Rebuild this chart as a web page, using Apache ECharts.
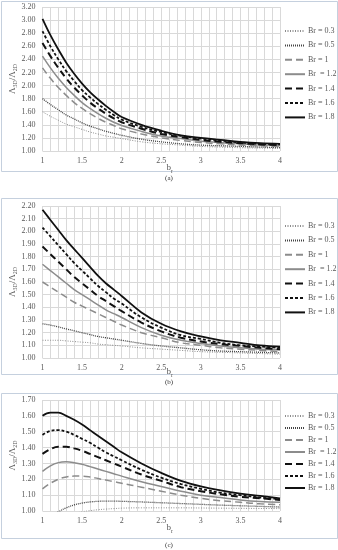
<!DOCTYPE html>
<html><head><meta charset="utf-8">
<script src="https://cdn.jsdelivr.net/npm/echarts@6/dist/echarts.min.js"></script>
<style>html,body{margin:0;padding:0;background:#fff}#c{width:338px;height:550px}</style>
</head><body><div id="c"></div>
<script>
const xs = [1,1.1,1.2,1.3,1.4,1.5,1.6,1.7,1.8,1.9,2,2.25,2.5,2.75,3,3.25,3.5,3.75,4];
const names = ['Br = 0.3','Br = 0.5','Br = 1','Br  = 1.2','Br = 1.4','Br = 1.6','Br = 1.8'];
const xTicks = [1,1.5,2,2.5,3,3.5,4];

// panel (a)
const a03 = [1.60,1.53,1.47,1.41,1.37,1.33,1.29,1.26,1.23,1.21,1.19,1.14,1.11,1.09,1.07,1.06,1.05,1.045,1.04];
const a05 = [1.80,1.71,1.63,1.55,1.49,1.43,1.38,1.34,1.30,1.27,1.24,1.18,1.14,1.11,1.09,1.08,1.07,1.06,1.05];
const a10 = [2.27,2.11,1.97,1.85,1.74,1.65,1.57,1.50,1.44,1.39,1.34,1.26,1.20,1.16,1.13,1.11,1.09,1.08,1.07];
const a12 = [2.45,2.27,2.11,1.97,1.85,1.74,1.65,1.57,1.50,1.44,1.39,1.30,1.23,1.19,1.15,1.13,1.11,1.09,1.08];
const a14 = [2.65,2.45,2.27,2.11,1.97,1.85,1.74,1.65,1.57,1.50,1.44,1.34,1.26,1.21,1.17,1.14,1.12,1.10,1.09];
const a16 = [2.83,2.60,2.40,2.22,2.07,1.93,1.82,1.72,1.63,1.55,1.48,1.37,1.29,1.23,1.19,1.16,1.13,1.11,1.10];
const a18 = [3.02,2.77,2.55,2.35,2.18,2.03,1.90,1.79,1.69,1.60,1.52,1.40,1.31,1.24,1.20,1.17,1.14,1.12,1.11];

// panel (b)
const b03 = [1.14,1.14,1.14,1.135,1.13,1.125,1.12,1.11,1.105,1.10,1.095,1.08,1.07,1.06,1.05,1.045,1.04,1.035,1.03];
const b05 = [1.27,1.26,1.245,1.23,1.215,1.20,1.185,1.17,1.16,1.15,1.14,1.115,1.095,1.08,1.065,1.055,1.05,1.045,1.04];
const b10 = [1.60,1.56,1.52,1.48,1.44,1.41,1.38,1.35,1.32,1.29,1.26,1.20,1.16,1.12,1.10,1.08,1.07,1.06,1.05];
const b12 = [1.74,1.69,1.64,1.59,1.54,1.50,1.46,1.42,1.38,1.35,1.32,1.24,1.18,1.14,1.115,1.095,1.08,1.07,1.065];
const b14 = [1.88,1.82,1.76,1.70,1.64,1.59,1.54,1.49,1.45,1.41,1.37,1.28,1.21,1.16,1.13,1.11,1.095,1.08,1.07];
const b16 = [2.03,1.96,1.89,1.82,1.75,1.69,1.63,1.57,1.52,1.47,1.43,1.32,1.24,1.18,1.15,1.12,1.10,1.09,1.08];
const b18 = [2.17,2.09,2.01,1.93,1.86,1.79,1.72,1.65,1.59,1.54,1.49,1.36,1.27,1.21,1.17,1.14,1.12,1.10,1.09];

// panel (c)
const c03 = [0.93,0.945,0.96,0.973,0.985,0.995,1.002,1.008,1.012,1.015,1.018,1.02,1.02,1.02,1.019,1.018,1.017,1.016,1.015];
const c05 = [0.93,0.965,0.995,1.02,1.038,1.05,1.057,1.061,1.062,1.062,1.061,1.057,1.052,1.047,1.042,1.037,1.033,1.029,1.025];
const c10 = [1.14,1.175,1.20,1.215,1.22,1.22,1.215,1.205,1.195,1.185,1.175,1.15,1.125,1.10,1.08,1.065,1.055,1.045,1.04];
const c12 = [1.25,1.285,1.305,1.31,1.305,1.295,1.28,1.265,1.25,1.235,1.22,1.185,1.155,1.125,1.10,1.085,1.07,1.06,1.055];
const c14 = [1.36,1.39,1.405,1.405,1.395,1.38,1.36,1.34,1.32,1.30,1.28,1.23,1.19,1.15,1.125,1.105,1.09,1.08,1.07];
const c16 = [1.48,1.505,1.51,1.50,1.48,1.455,1.43,1.40,1.37,1.345,1.32,1.26,1.21,1.17,1.14,1.115,1.10,1.085,1.075];
const c18 = [1.60,1.62,1.62,1.60,1.575,1.545,1.51,1.475,1.44,1.405,1.37,1.30,1.24,1.19,1.155,1.13,1.11,1.095,1.08];

const panelA = [a03,a05,a10,a12,a14,a16,a18];
const panelB = [b03,b05,b10,b12,b14,b16,b18];
const panelC = [c03,c05,c10,c12,c14,c16,c18];

const FONT = 'Liberation Serif';
const styles = [
  {color:'#8c8c8c', width:1, type:[1,1.5]},
  {color:'#444', width:1.3, type:[1,1]},
  {color:'#8c8c8c', width:1.5, type:[7,4]},
  {color:'#8c8c8c', width:1.5, type:'solid'},
  {color:'#111', width:2, type:[7,4]},
  {color:'#111', width:1.8, type:[3,2]},
  {color:'#111', width:1.8, type:'solid'}
];

const panels = [
  {data: panelA, top: 7, height: 144, ymax: 3.2, yint: 0.2, legTop: 27, legGap: 16.4, box:[1,1,336,170], cap:'(a)', capY:178, ng:11},
  {data: panelB, top: 206, height: 152, ymax: 2.2, yint: 0.1, legTop: 222, legGap: 16.4, box:[1,198,336,176], cap:'(b)', capY:382, ng:8},
  {data: panelC, top: 400, height: 111, ymax: 1.7, yint: 0.1, legTop: 412, legGap: 14, box:[1,393,336,145], cap:'(c)', capY:545, ng:11}
];

const richName = {
  sp:{width:17},
  a:{fontFamily:FONT,fontSize:9,color:'#595959',lineHeight:12},
  s:{fontFamily:FONT,fontSize:6,color:'#595959',lineHeight:6,verticalAlign:'bottom'}
};

const grid=[], xAxis=[], yAxis=[], series=[], legend=[], graphic=[];
panels.forEach((p,i)=>{
  grid.push({left:39, width:241, top:p.top, height:p.height});
  xAxis.push({type:'value', gridIndex:i, min:1, max:4, interval:0.5,
    axisLine:{show:false}, axisTick:{show:false},
    axisLabel:{fontFamily:FONT, fontSize:8, color:'#595959', margin:6, formatter:v=>xTicks.includes(v)?String(v):''},
    splitLine:{lineStyle:{color:'#d9d9d9', width:1}},
    minorTick:{show:false, splitNumber:5},
    minorSplitLine:{show:true, lineStyle:{color:'#d9d9d9', width:1}},
    name:'{sp|}{a|b}{s|r}', nameLocation:'middle', nameGap:p.ng, nameMoveOverlap:false,
    nameTextStyle:{rich:richName}
  });
  yAxis.push({type:'value', gridIndex:i, min:1, max:p.ymax, interval:p.yint,
    axisLine:{show:false}, axisTick:{show:false},
    axisLabel:{fontFamily:FONT, fontSize:8, color:'#595959', margin:7, formatter:v=>v.toFixed(2)},
    splitLine:{lineStyle:{color:'#d9d9d9', width:1}},
    name:'{a|Λ}{s|3D}{a|/Λ}{s|2D}', nameLocation:'middle', nameRotate:90, nameGap:24, nameMoveOverlap:false,
    nameTextStyle:{rich:richName}
  });
  p.data.forEach((ys,k)=>{
    series.push({type:'line', name:names[k], xAxisIndex:i, yAxisIndex:i,
      data: xs.map((x,j)=>[x, ys[j]]), smooth:0.4, symbol:'none', showSymbol:false, clip:true,
      lineStyle:{color:styles[k].color, width:styles[k].width, type:styles[k].type},
      itemStyle:{color:styles[k].color}, silent:true, z:2+k});
  });
  legend.push({data:names, orient:'vertical', left:284, top:p.legTop, itemWidth:20, itemHeight:6,
    itemGap:p.legGap-10, padding:0, itemStyle:{opacity:0},
    textStyle:{fontFamily:FONT, fontSize:8, color:'#595959', padding:[0,0,0,-2]},
    selectedMode:false});
  graphic.push({type:'rect', shape:{x:p.box[0]+0.5, y:p.box[1]+0.5, width:p.box[2], height:p.box[3]},
    style:{fill:null, stroke:'#c5d0de', lineWidth:1}, silent:true, z:-1});
  graphic.push({type:'text', x:169, y:p.capY, style:{text:p.cap, font:'7px '+FONT, fill:'#333', textAlign:'center', textVerticalAlign:'middle'}});
});

const chart = echarts.init(document.getElementById('c'), null, {renderer:'canvas'});
chart.setOption({animation:false, backgroundColor:'#fff', grid, xAxis, yAxis, series, legend, graphic});
</script></body></html>
